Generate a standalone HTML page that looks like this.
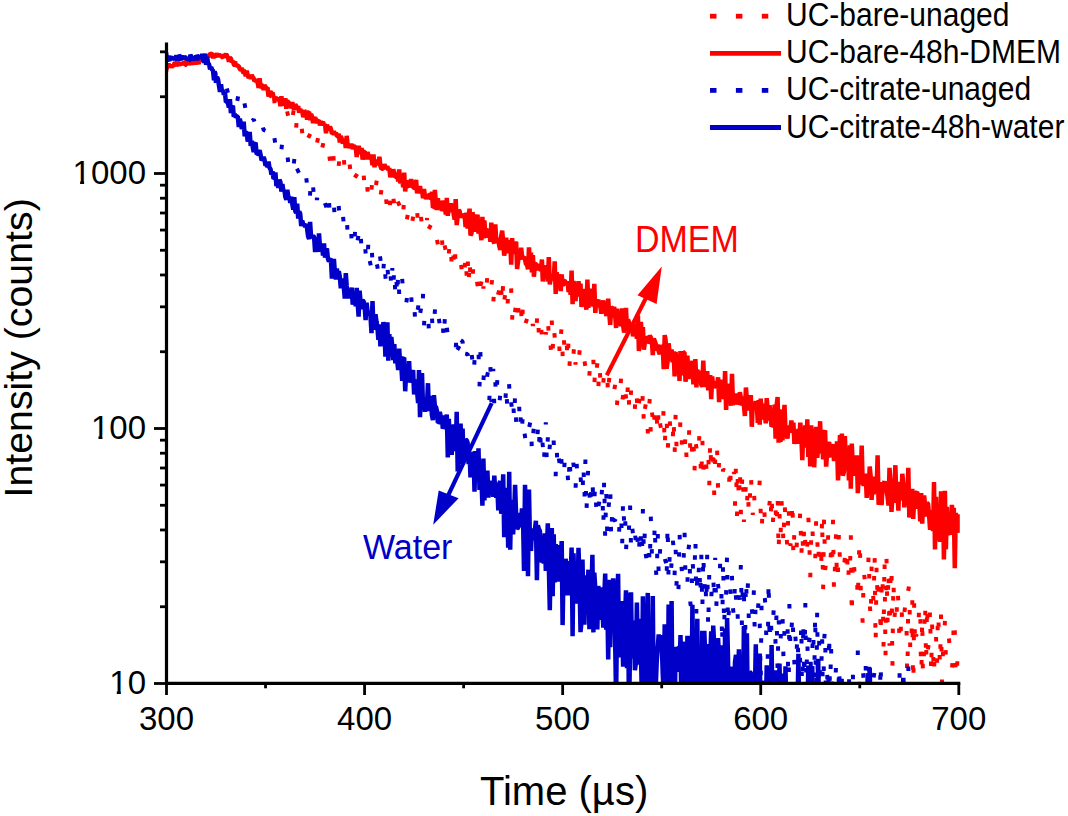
<!DOCTYPE html>
<html><head><meta charset="utf-8"><style>
html,body{margin:0;padding:0;background:#fff;}
svg{display:block;font-family:"Liberation Sans",sans-serif;}
</style></head><body>
<svg width="1068" height="816" viewBox="0 0 1068 816">
<defs><clipPath id="pa"><rect x="166.5" y="40" width="793.3" height="644.5"/></clipPath></defs>
<g clip-path="url(#pa)">
<polyline points="166.5,69.8 167.5,62.3 168.5,69.9 169.5,63.6 170.5,64.5 171.5,67.1 172.4,65.2 173.4,65.9 174.4,63.2 175.4,66.6 176.4,61.6 177.4,66.8 178.4,64.7 179.4,62.9 180.4,66.1 181.4,63.3 182.3,61.7 183.3,62.8 184.3,64.1 185.3,64.2 186.3,60.6 187.3,63.0 188.3,64.4 189.3,61.4 190.3,61.1 191.3,63.7 192.2,61.6 193.2,63.7 194.2,58.8 195.2,59.9 196.2,62.0 197.2,62.2 198.2,59.6 199.2,64.2 200.2,58.8 201.2,57.9 202.2,59.2 203.1,56.3 204.1,59.0 205.1,55.0 206.1,56.9 207.1,56.7 208.1,55.5 209.1,55.9 210.1,55.2 211.1,55.1 212.1,53.8 213.0,57.7 214.0,54.4 215.0,52.5 216.0,58.3 217.0,54.8 218.0,55.2 219.0,55.5 220.0,54.8 221.0,55.2 222.0,57.3 223.0,56.7 223.9,55.6 224.9,54.8 225.9,56.5 226.9,54.9 227.9,59.3 228.9,56.4 229.9,58.8 230.9,55.8 231.9,64.4 232.9,59.9 233.8,61.1 234.8,64.9 235.8,60.9 236.8,65.1 237.8,68.8 238.8,64.5 239.8,62.7 240.8,71.4 241.8,69.7 242.8,68.8 243.7,69.1 244.7,72.9 245.7,71.6 246.7,72.9 247.7,74.2 248.7,74.2 249.7,74.6 250.7,77.5 251.7,75.4 252.7,80.2 253.7,78.5 254.6,80.0 255.6,80.4 256.6,81.4 257.6,84.3 258.6,85.3 259.6,87.2 260.6,85.0 261.6,82.1 262.6,91.5 263.6,86.8 264.5,90.6 265.5,89.5 266.5,91.1 267.5,94.7 268.5,94.5 269.5,95.0 270.5,95.9 271.5,91.8 272.5,102.6 273.5,93.5 274.5,102.6 275.4,98.7 276.4,102.2 277.4,104.3 278.4,102.6 279.4,105.3 280.4,106.5 281.4,108.8 282.4,107.7 283.4,107.5 284.4,109.1 285.3,111.0 286.3,113.2 287.3,112.0 288.3,116.8 289.3,117.6 290.3,110.1 291.3,121.4 292.3,119.0 293.3,112.4 294.3,125.1 295.2,117.0 296.2,126.8 297.2,115.7 298.2,124.3 299.2,123.4 300.2,124.8 301.2,122.5 302.2,132.4 303.2,123.2 304.2,127.6 305.2,131.9 306.1,128.2 307.1,129.0 308.1,131.2 309.1,136.2 310.1,134.2 311.1,136.8 312.1,139.7 313.1,133.2 314.1,135.3 315.1,137.3 316.0,145.5 317.0,143.1 318.0,138.3 319.0,145.5 320.0,146.9 321.0,139.0 322.0,148.8 323.0,144.5 324.0,150.8 325.0,150.3 326.0,150.7 326.9,144.5 327.9,153.2 328.9,152.1 329.9,160.1 330.9,154.0 331.9,158.4 332.9,148.3 333.9,163.5 334.9,152.5 335.9,159.9 336.8,159.4 337.8,158.8 338.8,164.5 339.8,152.9 340.8,160.5 341.8,164.7 342.8,162.3 343.8,158.8 344.8,169.8 345.8,162.9 346.7,167.2 347.7,163.8 348.7,168.4 349.7,165.0 350.7,172.7 351.7,173.5 352.7,170.8 353.7,162.8 354.7,175.2 355.7,176.2 356.7,174.7 357.6,173.4 358.6,177.0 359.6,172.8 360.6,179.9 361.6,178.1 362.6,179.2 363.6,173.2 364.6,189.2 365.6,181.2 366.6,178.8 367.5,189.8 368.5,176.3 369.5,181.7 370.5,190.8 371.5,189.7 372.5,177.6 373.5,186.3 374.5,191.4 375.5,188.3 376.5,182.0 377.4,197.4 378.4,190.9 379.4,193.9 380.4,196.2 381.4,190.5 382.4,198.6 383.4,202.2 384.4,201.4 385.4,192.8 386.4,202.2 387.4,201.0 388.3,196.7 389.3,212.7 390.3,200.3 391.3,212.4 392.3,207.7 393.3,197.9 394.3,204.7 395.3,202.7 396.3,215.2 397.3,207.2 398.2,202.5 399.2,204.7 400.2,216.8 401.2,207.9 402.2,211.9 403.2,212.2 404.2,199.3 405.2,216.5 406.2,214.1 407.2,217.9 408.2,211.8 409.1,214.1 410.1,218.4 411.1,212.3 412.1,222.5 413.1,217.2 414.1,222.5 415.1,222.4 416.1,225.6 417.1,209.9 418.1,226.5 419.0,227.1 420.0,230.7 421.0,216.7 422.0,227.2 423.0,229.1 424.0,231.1 425.0,230.8 426.0,233.7 427.0,218.0 428.0,238.7 428.9,228.7 429.9,226.7 430.9,232.9 431.9,234.3 432.9,241.2 433.9,234.3 434.9,238.3 435.9,237.6 436.9,239.2 437.9,244.6 438.9,236.6 439.8,239.5 440.8,243.3 441.8,235.5 442.8,252.8 443.8,239.1 444.8,246.1 445.8,251.0 446.8,240.8 447.8,255.3 448.8,253.2 449.7,246.1 450.7,239.1 451.7,267.1 452.7,250.0 453.7,258.2 454.7,241.5 455.7,267.3 456.7,261.2 457.7,257.5 458.7,258.6 459.7,258.2 460.6,261.2 461.6,268.7 462.6,258.6 463.6,268.0 464.6,272.1 465.6,253.0 466.6,275.6 467.6,254.5 468.6,285.5 469.6,256.0 470.5,282.5 471.5,275.0 472.5,279.2 473.5,264.2 474.5,269.2 475.5,280.6 476.5,278.1 477.5,285.1 478.5,274.2 479.5,271.0 480.4,285.8 481.4,282.1 482.4,270.0 483.4,288.6 484.4,276.4 485.4,277.1 486.4,288.3 487.4,275.0 488.4,285.4 489.4,291.9 490.4,287.7 491.3,287.0 492.3,277.8 493.3,302.4 494.3,288.3 495.3,290.8 496.3,290.6 497.3,283.6 498.3,293.5 499.3,290.0 500.3,302.1 501.2,288.5 502.2,306.7 503.2,280.3 504.2,301.0 505.2,294.2 506.2,301.6 507.2,312.3 508.2,292.9 509.2,298.5 510.2,302.9 511.2,289.8 512.1,320.2 513.1,299.3 514.1,307.3 515.1,311.8 516.1,302.3 517.1,314.6 518.1,306.3 519.1,316.7 520.1,302.3 521.1,308.4 522.0,329.1 523.0,301.4 524.0,304.5 525.0,321.0 526.0,321.9 527.0,319.0 528.0,314.3 529.0,318.9 530.0,323.9 531.0,317.2 531.9,319.8 532.9,326.0 533.9,320.3 534.9,320.1 535.9,333.1 536.9,320.9 537.9,309.2 538.9,337.0 539.9,321.8 540.9,324.9 541.9,335.6 542.8,326.0 543.8,320.7 544.8,322.3 545.8,334.3 546.8,329.2 547.8,315.1 548.8,337.4 549.8,330.8 550.8,348.9 551.8,320.3 552.7,350.7 553.7,324.5 554.7,337.1 555.7,336.3 556.7,337.9 557.7,336.0 558.7,329.7 559.7,356.4 560.7,337.2 561.7,326.5 562.6,354.1 563.6,332.2 564.6,352.5 565.6,339.2 566.6,340.5 567.6,363.2 568.6,339.0 569.6,364.1 570.6,344.2 571.6,345.9 572.6,350.2 573.5,354.1 574.5,341.7 575.5,364.6 576.5,352.0 577.5,358.0 578.5,361.9 579.5,352.1 580.5,364.4 581.5,359.9 582.5,354.4 583.4,358.8 584.4,360.5 585.4,366.8 586.4,365.8 587.4,359.2 588.4,356.7 589.4,374.3 590.4,361.5 591.4,369.8 592.4,370.6 593.4,360.9 594.3,387.2 595.3,361.5 596.3,370.5 597.3,364.4 598.3,389.8 599.3,363.4 600.3,378.6 601.3,378.5 602.3,368.7 603.3,383.7 604.2,370.2 605.2,376.6 606.2,376.9 607.2,373.7 608.2,398.9 609.2,377.8 610.2,385.2 611.2,384.0 612.2,379.6 613.2,389.8 614.1,391.4 615.1,384.7 616.1,379.4 617.1,403.5 618.1,389.8 619.1,388.5 620.1,393.5 621.1,377.5 622.1,402.0 623.1,395.5 624.1,405.0 625.0,390.2 626.0,397.3 627.0,409.3 628.0,379.8 629.0,402.7 630.0,413.7 631.0,391.7 632.0,403.3 633.0,396.5 634.0,396.5 634.9,407.6 635.9,387.5 636.9,399.4 637.9,417.1 638.9,402.8 639.9,398.5 640.9,411.0 641.9,413.2 642.9,391.1 643.9,427.7 644.9,408.7 645.8,404.2 646.8,402.9 647.8,432.5 648.8,408.1 649.8,399.1 650.8,434.2 651.8,410.6 652.8,419.2 653.8,404.4 654.8,431.1 655.7,418.3 656.7,417.0 657.7,435.7 658.7,405.4 659.7,422.0 660.7,426.7 661.7,426.1 662.7,434.8 663.7,405.5 664.7,450.3 665.6,421.3 666.6,415.7 667.6,451.8 668.6,435.2 669.6,418.2 670.6,433.0 671.6,441.4 672.6,444.9 673.6,415.4 674.6,455.7 675.6,414.3 676.5,447.0 677.5,450.3 678.5,446.8 679.5,444.9 680.5,417.3 681.5,434.8 682.5,457.6 683.5,440.5 684.5,457.4 685.5,432.0 686.4,455.3 687.4,450.5 688.4,455.0 689.4,422.8 690.4,454.5 691.4,463.7 692.4,439.0 693.4,433.0 694.4,474.8 695.4,441.0 696.4,447.5 697.3,458.1 698.3,458.0 699.3,436.1 700.3,456.7 701.3,481.3 702.3,437.2 703.3,471.5 704.3,450.9 705.3,453.8 706.3,467.1 707.2,464.8 708.2,448.7 709.2,488.8 710.2,437.7 711.2,468.3 712.2,474.6 713.2,443.6 714.2,493.5 715.2,459.6 716.2,467.1 717.1,448.6 718.1,491.5 719.1,459.2 720.1,475.0 721.1,474.7 722.1,476.8 723.1,469.3 724.1,470.1 725.1,480.6 726.1,477.9 727.1,478.7 728.0,477.1 729.0,485.5 730.0,462.5 731.0,491.0 732.0,488.2 733.0,480.1 734.0,471.9 735.0,504.0 736.0,461.7 737.0,515.5 737.9,468.4 738.9,504.0 739.9,467.2 740.9,513.0 741.9,484.9 742.9,469.3 743.9,521.9 744.9,499.9 745.9,485.1 746.9,505.7 747.9,485.0 748.8,516.2 749.8,500.8 750.8,472.7 751.8,493.4 752.8,515.0 753.8,490.4 754.8,506.0 755.8,505.2 756.8,499.9 757.8,499.1 758.7,498.2 759.7,480.7 760.7,512.0 761.7,532.3 762.7,504.1 763.7,501.7 764.7,516.8 765.7,504.6 766.7,511.8 767.7,509.3 768.6,510.0 769.6,502.7 770.6,521.9 771.6,491.3 772.6,529.1 773.6,509.4 774.6,518.8 775.6,509.4 776.6,529.6 777.6,492.4 778.6,555.0 779.5,512.8 780.5,539.4 781.5,500.5 782.5,515.3 783.5,546.6 784.5,501.0 785.5,519.6 786.5,535.7 787.5,548.9 788.5,502.1 789.4,530.7 790.4,545.8 791.4,540.5 792.4,498.1 793.4,558.9 794.4,530.2 795.4,532.8 796.4,550.1 797.4,534.0 798.4,534.6 799.3,535.2 800.3,508.3 801.3,558.1 802.3,530.8 803.3,555.0 804.3,521.8 805.3,543.0 806.3,559.4 807.3,544.3 808.3,515.9 809.3,538.9 810.2,580.0 811.2,538.0 812.2,521.9 813.2,548.0 814.2,550.9 815.2,561.0 816.2,517.8 817.2,537.0 818.2,565.5 819.2,538.1 820.1,554.7 821.1,572.9 822.1,514.2 823.1,593.3 824.1,515.4 825.1,570.9 826.1,561.4 827.1,562.2 828.1,536.8 829.1,553.7 830.1,561.8 831.0,552.6 832.0,568.5 833.0,520.8 834.0,593.1 835.0,565.4 836.0,534.6 837.0,583.6 838.0,570.3 839.0,529.6 840.0,563.6 840.9,569.7 841.9,573.2 842.9,571.2 843.9,569.1 844.9,556.6 845.9,573.3 846.9,545.4 847.9,583.6 848.9,567.1 849.9,576.2 850.8,531.6 851.8,619.0 852.8,553.8 853.8,559.5 854.8,579.8 855.8,574.8 856.8,572.8 857.8,602.5 858.8,557.9 859.8,537.8 860.8,591.6 861.7,599.5 862.7,624.1 863.7,569.9 864.7,579.5 865.7,580.4 866.7,578.1 867.7,582.0 868.7,551.8 869.7,600.5 870.7,621.3 871.6,567.3 872.6,582.9 873.6,604.5 874.6,553.1 875.6,646.4 876.6,562.4 877.6,604.6 878.6,584.6 879.6,572.9 880.6,638.3 881.6,590.3 882.5,572.1 883.5,647.8 884.5,556.7 885.5,658.6 886.5,558.3 887.5,623.0 888.5,567.9 889.5,645.7 890.5,581.5 891.5,563.1 892.4,669.5 893.4,577.9 894.4,618.5 895.4,607.2 896.4,620.9 897.4,587.6 898.4,602.5 899.4,639.0 900.4,646.0 901.4,605.6 902.3,623.4 903.3,607.6 904.3,612.6 905.3,605.5 906.3,606.4 907.3,692.2 908.3,590.2 909.3,584.3 910.3,654.0 911.3,644.0 912.3,600.4 913.2,701.5 914.2,602.2 915.2,649.2 916.2,634.3 917.2,640.7 918.2,636.6 919.2,602.3 920.2,602.6 921.2,690.6 922.2,615.5 923.1,692.6 924.1,645.7 925.1,601.0 926.1,665.1 927.1,601.8 928.1,648.0 929.1,643.0 930.1,606.8 931.1,675.6 932.1,624.6 933.1,651.0 934.0,678.0 935.0,635.8 936.0,636.4 937.0,666.1 938.0,610.1 939.0,632.8 940.0,668.1 941.0,615.4 942.0,684.1 943.0,651.1 943.9,651.7 944.9,621.5 945.9,658.9 946.9,659.5 947.9,648.1 948.9,637.8 949.9,649.2 950.9,655.6 951.9,669.2 952.9,656.8 953.8,616.5 954.8,630.5 955.8,680.3 956.8,679.7 957.8,647.7 958.8,632.2" fill="none" stroke="#ff0000" stroke-width="4" stroke-dasharray="0.5 32" stroke-linecap="square" stroke-linejoin="bevel" />
<polyline points="166.5,68.2 167.5,67.1 168.5,63.6 169.5,67.3 170.5,64.8 171.5,67.5 172.4,65.5 173.4,66.2 174.4,64.5 175.4,62.3 176.4,65.9 177.4,64.3 178.4,64.4 179.4,63.7 180.4,64.0 181.4,64.5 182.3,62.8 183.3,63.6 184.3,62.0 185.3,64.7 186.3,64.7 187.3,60.1 188.3,64.8 189.3,62.4 190.3,58.9 191.3,61.8 192.2,64.9 193.2,60.0 194.2,60.4 195.2,64.3 196.2,61.6 197.2,57.0 198.2,62.2 199.2,59.6 200.2,58.7 201.2,60.0 202.2,58.1 203.1,57.8 204.1,57.7 205.1,59.3 206.1,55.4 207.1,57.6 208.1,56.5 209.1,56.5 210.1,53.4 211.1,53.9 212.1,53.9 213.0,55.6 214.0,56.5 215.0,56.5 216.0,55.3 217.0,53.5 218.0,56.8 219.0,54.3 220.0,55.9 221.0,55.0 222.0,56.9 223.0,57.6 223.9,54.7 224.9,55.7 225.9,53.6 226.9,57.0 227.9,56.5 228.9,61.8 229.9,57.6 230.9,58.6 231.9,62.2 232.9,61.0 233.8,64.4 234.8,65.4 235.8,64.4 236.8,65.6 237.8,65.8 238.8,66.4 239.8,68.9 240.8,69.9 241.8,68.2 242.8,71.6 243.7,73.1 244.7,70.8 245.7,76.4 246.7,70.6 247.7,75.3 248.7,78.0 249.7,76.2 250.7,78.6 251.7,74.9 252.7,76.9 253.7,78.4 254.6,81.3 255.6,79.2 256.6,82.3 257.6,81.8 258.6,87.8 259.6,78.2 260.6,87.5 261.6,85.3 262.6,85.0 263.6,90.1 264.5,85.1 265.5,87.0 266.5,88.2 267.5,87.4 268.5,96.6 269.5,92.5 270.5,91.4 271.5,93.8 272.5,92.4 273.5,96.8 274.5,98.0 275.4,99.9 276.4,98.4 277.4,98.2 278.4,101.0 279.4,97.2 280.4,106.2 281.4,96.3 282.4,105.7 283.4,100.2 284.4,101.7 285.3,98.3 286.3,108.7 287.3,100.6 288.3,102.6 289.3,102.9 290.3,105.1 291.3,108.0 292.3,102.1 293.3,107.7 294.3,109.7 295.2,104.5 296.2,106.0 297.2,109.2 298.2,106.2 299.2,112.7 300.2,108.8 301.2,112.3 302.2,110.0 303.2,117.3 304.2,110.5 305.2,112.2 306.1,112.3 307.1,119.7 308.1,112.6 309.1,112.1 310.1,120.1 311.1,113.9 312.1,117.2 313.1,123.0 314.1,118.8 315.1,117.4 316.0,120.3 317.0,122.8 318.0,120.9 319.0,120.4 320.0,125.3 321.0,121.7 322.0,123.1 323.0,121.9 324.0,125.2 325.0,124.1 326.0,133.2 326.9,124.7 327.9,128.0 328.9,129.8 329.9,126.7 330.9,129.0 331.9,133.4 332.9,133.2 333.9,131.2 334.9,134.6 335.9,132.7 336.8,136.0 337.8,136.1 338.8,133.8 339.8,142.4 340.8,136.0 341.8,139.2 342.8,143.6 343.8,140.8 344.8,140.6 345.8,148.0 346.7,135.8 347.7,146.0 348.7,146.7 349.7,146.1 350.7,146.1 351.7,144.0 352.7,149.1 353.7,145.8 354.7,146.7 355.7,146.2 356.7,157.0 357.6,149.2 358.6,146.2 359.6,149.7 360.6,154.1 361.6,148.0 362.6,159.6 363.6,151.8 364.6,152.0 365.6,153.3 366.6,159.4 367.5,152.1 368.5,155.6 369.5,159.2 370.5,154.8 371.5,158.2 372.5,165.1 373.5,154.4 374.5,167.2 375.5,161.0 376.5,161.7 377.4,162.0 378.4,164.9 379.4,156.8 380.4,165.8 381.4,168.8 382.4,168.7 383.4,168.4 384.4,164.4 385.4,167.0 386.4,168.6 387.4,166.1 388.3,170.4 389.3,168.1 390.3,177.3 391.3,171.7 392.3,177.1 393.3,169.2 394.3,173.8 395.3,177.1 396.3,176.9 397.3,172.5 398.2,181.6 399.2,169.5 400.2,183.4 401.2,179.5 402.2,179.3 403.2,187.1 404.2,172.6 405.2,191.5 406.2,180.9 407.2,182.5 408.2,186.0 409.1,186.8 410.1,184.2 411.1,179.1 412.1,185.9 413.1,186.8 414.1,187.8 415.1,188.2 416.1,179.8 417.1,193.4 418.1,188.5 419.0,192.9 420.0,186.1 421.0,193.3 422.0,188.9 423.0,198.3 424.0,189.1 425.0,196.0 426.0,198.7 427.0,196.9 428.0,196.3 428.9,195.3 429.9,194.0 430.9,199.5 431.9,191.9 432.9,207.7 433.9,206.9 434.9,189.9 435.9,203.8 436.9,210.0 437.9,198.1 438.9,209.2 439.8,200.9 440.8,204.7 441.8,210.5 442.8,209.1 443.8,200.4 444.8,205.8 445.8,214.4 446.8,197.9 447.8,215.8 448.8,206.3 449.7,212.1 450.7,203.3 451.7,211.1 452.7,204.0 453.7,214.7 454.7,219.6 455.7,199.2 456.7,225.1 457.7,216.2 458.7,209.9 459.7,211.4 460.6,217.4 461.6,215.7 462.6,216.7 463.6,214.4 464.6,215.4 465.6,227.0 466.6,212.6 467.6,228.5 468.6,215.9 469.6,208.7 470.5,235.4 471.5,233.4 472.5,212.3 473.5,217.0 474.5,225.5 475.5,231.3 476.5,228.1 477.5,214.5 478.5,233.7 479.5,220.6 480.4,230.8 481.4,240.2 482.4,216.8 483.4,238.4 484.4,220.3 485.4,237.8 486.4,229.9 487.4,230.5 488.4,231.8 489.4,232.4 490.4,241.8 491.3,222.7 492.3,232.1 493.3,240.9 494.3,243.4 495.3,224.4 496.3,242.0 497.3,239.3 498.3,239.6 499.3,246.2 500.3,249.9 501.2,235.9 502.2,230.7 503.2,241.9 504.2,255.7 505.2,246.2 506.2,237.7 507.2,253.1 508.2,246.9 509.2,242.4 510.2,241.7 511.2,264.7 512.1,238.1 513.1,252.3 514.1,251.8 515.1,245.9 516.1,241.6 517.1,269.0 518.1,261.2 519.1,249.5 520.1,259.9 521.1,247.7 522.0,255.4 523.0,257.9 524.0,257.3 525.0,259.5 526.0,264.3 527.0,264.8 528.0,269.2 529.0,247.3 530.0,266.1 531.0,252.7 531.9,272.5 532.9,255.2 533.9,276.7 534.9,263.9 535.9,264.2 536.9,265.3 537.9,270.2 538.9,266.1 539.9,265.6 540.9,271.1 541.9,259.5 542.8,281.5 543.8,269.3 544.8,265.3 545.8,278.9 546.8,266.2 547.8,281.5 548.8,257.0 549.8,284.4 550.8,278.1 551.8,279.1 552.7,274.2 553.7,280.4 554.7,261.4 555.7,294.0 556.7,272.3 557.7,279.7 558.7,277.0 559.7,274.3 560.7,291.1 561.7,274.3 562.6,286.1 563.6,281.0 564.6,280.7 565.6,282.5 566.6,285.0 567.6,281.3 568.6,292.0 569.6,286.4 570.6,294.8 571.6,270.5 572.6,304.1 573.5,281.2 574.5,287.4 575.5,301.0 576.5,284.8 577.5,296.5 578.5,281.1 579.5,291.9 580.5,283.5 581.5,307.0 582.5,297.9 583.4,289.1 584.4,293.5 585.4,295.1 586.4,309.8 587.4,279.5 588.4,307.8 589.4,299.1 590.4,288.7 591.4,304.3 592.4,301.6 593.4,306.4 594.3,283.9 595.3,312.9 596.3,299.3 597.3,307.1 598.3,299.9 599.3,303.7 600.3,305.7 601.3,313.7 602.3,305.7 603.3,300.4 604.2,312.0 605.2,301.7 606.2,316.2 607.2,310.2 608.2,298.7 609.2,312.6 610.2,324.8 611.2,307.1 612.2,308.1 613.2,317.6 614.1,306.9 615.1,313.5 616.1,328.0 617.1,308.7 618.1,317.6 619.1,324.7 620.1,324.4 621.1,320.6 622.1,308.5 623.1,325.5 624.1,332.5 625.0,328.7 626.0,307.8 627.0,331.3 628.0,319.6 629.0,322.3 630.0,329.7 631.0,325.7 632.0,325.3 633.0,336.4 634.0,330.8 634.9,323.9 635.9,327.0 636.9,338.7 637.9,315.4 638.9,351.0 639.9,337.3 640.9,321.9 641.9,336.3 642.9,327.0 643.9,349.6 644.9,341.5 645.8,336.8 646.8,338.4 647.8,343.0 648.8,341.6 649.8,335.4 650.8,337.4 651.8,339.9 652.8,355.1 653.8,338.7 654.8,341.2 655.7,343.7 656.7,350.6 657.7,344.6 658.7,351.2 659.7,354.2 660.7,344.9 661.7,350.6 662.7,344.9 663.7,369.2 664.7,335.1 665.6,339.9 666.6,368.7 667.6,361.5 668.6,343.3 669.6,353.0 670.6,360.8 671.6,349.5 672.6,362.3 673.6,351.4 674.6,376.5 675.6,351.8 676.5,363.8 677.5,358.6 678.5,354.3 679.5,381.0 680.5,351.1 681.5,366.9 682.5,375.3 683.5,352.5 684.5,352.6 685.5,381.7 686.4,373.7 687.4,355.6 688.4,378.8 689.4,372.2 690.4,367.1 691.4,366.1 692.4,360.8 693.4,384.4 694.4,371.6 695.4,359.1 696.4,387.5 697.3,369.5 698.3,378.4 699.3,375.1 700.3,370.7 701.3,385.2 702.3,385.9 703.3,360.6 704.3,387.1 705.3,375.8 706.3,383.8 707.2,371.2 708.2,390.3 709.2,379.9 710.2,375.2 711.2,399.2 712.2,376.4 713.2,387.6 714.2,384.0 715.2,381.7 716.2,388.2 717.1,385.8 718.1,377.3 719.1,402.2 720.1,382.7 721.1,380.2 722.1,384.4 723.1,396.8 724.1,398.1 725.1,371.1 726.1,410.0 727.1,383.5 728.0,400.0 729.0,401.3 730.0,387.8 731.0,405.8 732.0,373.9 733.0,404.5 734.0,402.5 735.0,397.9 736.0,393.9 737.0,396.4 737.9,404.4 738.9,402.3 739.9,392.2 740.9,398.1 741.9,405.5 742.9,396.5 743.9,405.9 744.9,416.0 745.9,387.5 746.9,399.7 747.9,410.6 748.8,399.2 749.8,406.7 750.8,395.1 751.8,426.8 752.8,403.1 753.8,409.3 754.8,404.0 755.8,401.6 756.8,404.9 757.8,422.8 758.7,400.0 759.7,424.6 760.7,398.7 761.7,411.6 762.7,419.5 763.7,403.7 764.7,410.1 765.7,423.3 766.7,398.2 767.7,409.2 768.6,420.5 769.6,405.1 770.6,418.1 771.6,426.7 772.6,414.2 773.6,427.5 774.6,404.5 775.6,438.6 776.6,405.8 777.6,397.0 778.6,442.7 779.5,409.3 780.5,442.0 781.5,422.2 782.5,440.4 783.5,419.5 784.5,404.9 785.5,430.9 786.5,433.4 787.5,438.5 788.5,425.5 789.4,428.8 790.4,429.5 791.4,420.5 792.4,432.7 793.4,422.7 794.4,444.0 795.4,436.7 796.4,434.7 797.4,443.7 798.4,428.8 799.3,438.8 800.3,422.7 801.3,436.3 802.3,460.1 803.3,427.6 804.3,443.0 805.3,425.4 806.3,447.6 807.3,419.3 808.3,456.9 809.3,427.6 810.2,466.5 811.2,425.3 812.2,444.1 813.2,435.7 814.2,467.3 815.2,437.4 816.2,426.9 817.2,457.8 818.2,448.3 819.2,446.7 820.1,421.2 821.1,453.4 822.1,441.8 823.1,459.4 824.1,432.8 825.1,430.2 826.1,466.7 827.1,453.0 828.1,445.4 829.1,441.9 830.1,455.1 831.0,456.9 832.0,446.9 833.0,444.4 834.0,461.1 835.0,445.6 836.0,457.1 837.0,441.3 838.0,480.4 839.0,461.2 840.0,435.1 840.9,470.0 841.9,433.6 842.9,475.6 843.9,471.8 844.9,436.0 845.9,464.9 846.9,470.0 847.9,451.0 848.9,480.5 849.9,445.2 850.8,488.6 851.8,443.6 852.8,467.3 853.8,475.7 854.8,458.5 855.8,466.9 856.8,455.4 857.8,493.1 858.8,476.6 859.8,484.2 860.8,472.5 861.7,445.5 862.7,483.7 863.7,484.9 864.7,483.4 865.7,473.6 866.7,498.0 867.7,473.8 868.7,491.0 869.7,466.5 870.7,476.8 871.6,500.0 872.6,476.5 873.6,494.2 874.6,489.0 875.6,478.1 876.6,490.2 877.6,455.4 878.6,504.6 879.6,500.9 880.6,482.2 881.6,505.2 882.5,487.8 883.5,485.3 884.5,481.1 885.5,491.6 886.5,490.2 887.5,496.3 888.5,505.4 889.5,467.9 890.5,482.9 891.5,511.8 892.4,495.0 893.4,483.0 894.4,489.1 895.4,465.2 896.4,502.9 897.4,490.8 898.4,510.7 899.4,481.9 900.4,498.6 901.4,499.1 902.3,473.8 903.3,483.4 904.3,507.4 905.3,495.5 906.3,488.3 907.3,501.6 908.3,467.7 909.3,517.5 910.3,500.3 911.3,499.4 912.3,488.7 913.2,519.0 914.2,499.7 915.2,508.7 916.2,492.8 917.2,491.7 918.2,507.4 919.2,499.8 920.2,521.5 921.2,493.1 922.2,523.6 923.1,503.3 924.1,495.4 925.1,504.9 926.1,516.6 927.1,503.0 928.1,503.8 929.1,515.6 930.1,529.9 931.1,510.0 932.1,516.5 933.1,531.0 934.0,482.1 935.0,549.4 936.0,496.9 937.0,527.8 938.0,518.5 939.0,534.9 940.0,541.7 941.0,491.4 942.0,540.7 943.0,493.9 943.9,559.5 944.9,490.9 945.9,549.4 946.9,506.8 947.9,535.4 948.9,521.4 949.9,521.9 950.9,534.8 951.9,504.9 952.9,525.3 953.8,507.7 954.8,568.1 955.8,512.8 956.8,529.8 957.8,532.6 958.8,514.3" fill="none" stroke="#ff0000" stroke-width="4.5" stroke-linejoin="bevel" />
<polyline points="166.5,54.3 167.5,61.1 168.5,57.5 169.5,57.9 170.5,58.0 171.5,60.9 172.4,59.6 173.4,55.9 174.4,58.5 175.4,59.0 176.4,58.2 177.4,58.9 178.4,57.5 179.4,55.3 180.4,62.1 181.4,57.1 182.3,58.2 183.3,57.1 184.3,60.3 185.3,57.1 186.3,55.3 187.3,58.9 188.3,56.5 189.3,58.8 190.3,59.9 191.3,57.3 192.2,55.6 193.2,60.9 194.2,59.1 195.2,53.7 196.2,60.9 197.2,55.2 198.2,60.2 199.2,59.2 200.2,54.8 201.2,60.1 202.2,55.7 203.1,57.7 204.1,56.5 205.1,60.8 206.1,58.9 207.1,57.9 208.1,61.2 209.1,64.2 210.1,61.9 211.1,70.7 212.1,64.5 213.0,68.9 214.0,72.5 215.0,73.2 216.0,73.0 217.0,71.5 218.0,77.4 219.0,79.4 220.0,79.6 221.0,77.5 222.0,82.1 223.0,83.7 223.9,84.0 224.9,82.4 225.9,86.9 226.9,88.6 227.9,92.7 228.9,89.2 229.9,89.5 230.9,89.6 231.9,95.1 232.9,94.6 233.8,93.7 234.8,96.9 235.8,96.5 236.8,103.6 237.8,98.0 238.8,100.8 239.8,106.6 240.8,104.6 241.8,103.1 242.8,108.0 243.7,112.7 244.7,104.6 245.7,109.8 246.7,116.6 247.7,117.5 248.7,113.6 249.7,117.7 250.7,115.6 251.7,121.7 252.7,120.5 253.7,119.3 254.6,122.2 255.6,122.3 256.6,124.4 257.6,131.8 258.6,124.6 259.6,127.9 260.6,129.1 261.6,127.7 262.6,126.5 263.6,129.8 264.5,130.2 265.5,139.0 266.5,134.6 267.5,135.2 268.5,137.0 269.5,136.5 270.5,139.3 271.5,139.3 272.5,142.6 273.5,141.6 274.5,138.7 275.4,144.3 276.4,143.9 277.4,142.3 278.4,150.7 279.4,143.1 280.4,145.9 281.4,149.6 282.4,140.8 283.4,150.5 284.4,150.5 285.3,152.3 286.3,149.4 287.3,154.4 288.3,163.1 289.3,159.5 290.3,156.4 291.3,165.8 292.3,163.7 293.3,167.6 294.3,159.7 295.2,176.0 296.2,166.3 297.2,169.2 298.2,171.3 299.2,171.8 300.2,173.0 301.2,167.8 302.2,179.4 303.2,178.4 304.2,179.2 305.2,179.7 306.1,175.9 307.1,185.5 308.1,185.2 309.1,176.6 310.1,193.8 311.1,176.6 312.1,187.6 313.1,186.5 314.1,200.4 315.1,189.4 316.0,192.0 317.0,199.9 318.0,193.4 319.0,196.1 320.0,199.0 321.0,192.9 322.0,196.1 323.0,201.4 324.0,201.5 325.0,203.4 326.0,206.2 326.9,212.3 327.9,196.3 328.9,198.7 329.9,218.3 330.9,209.0 331.9,207.8 332.9,204.9 333.9,205.5 334.9,218.8 335.9,212.8 336.8,213.6 337.8,218.2 338.8,207.5 339.8,218.1 340.8,221.1 341.8,223.9 342.8,213.3 343.8,224.7 344.8,227.0 345.8,225.4 346.7,215.2 347.7,236.1 348.7,235.8 349.7,227.1 350.7,224.7 351.7,241.0 352.7,226.6 353.7,236.6 354.7,236.0 355.7,223.1 356.7,241.2 357.6,240.1 358.6,235.1 359.6,241.9 360.6,230.3 361.6,251.8 362.6,242.5 363.6,241.1 364.6,241.8 365.6,252.5 366.6,249.5 367.5,262.3 368.5,238.9 369.5,260.0 370.5,264.3 371.5,244.1 372.5,262.9 373.5,259.6 374.5,262.8 375.5,255.8 376.5,263.6 377.4,266.4 378.4,274.2 379.4,254.1 380.4,258.8 381.4,278.4 382.4,270.8 383.4,269.8 384.4,255.1 385.4,276.4 386.4,285.4 387.4,267.0 388.3,277.8 389.3,281.7 390.3,268.7 391.3,289.6 392.3,268.2 393.3,289.0 394.3,266.1 395.3,294.8 396.3,277.1 397.3,299.4 398.2,270.7 399.2,294.1 400.2,300.6 401.2,290.1 402.2,279.1 403.2,292.9 404.2,289.5 405.2,296.0 406.2,303.3 407.2,296.5 408.2,297.3 409.1,306.9 410.1,305.2 411.1,294.5 412.1,309.7 413.1,304.5 414.1,300.9 415.1,320.0 416.1,304.4 417.1,311.5 418.1,307.9 419.0,297.0 420.0,314.7 421.0,308.4 422.0,317.3 423.0,295.8 424.0,325.6 425.0,310.8 426.0,313.1 427.0,317.2 428.0,315.1 428.9,330.2 429.9,313.3 430.9,311.5 431.9,316.6 432.9,332.4 433.9,324.6 434.9,310.7 435.9,323.4 436.9,326.9 437.9,329.5 438.9,319.1 439.8,324.6 440.8,334.1 441.8,332.8 442.8,322.9 443.8,342.2 444.8,318.1 445.8,335.7 446.8,327.1 447.8,335.7 448.8,336.0 449.7,337.1 450.7,335.9 451.7,339.7 452.7,338.4 453.7,340.3 454.7,344.9 455.7,350.1 456.7,331.5 457.7,349.1 458.7,347.4 459.7,346.5 460.6,358.2 461.6,340.7 462.6,341.4 463.6,360.8 464.6,357.0 465.6,351.4 466.6,353.9 467.6,354.1 468.6,358.1 469.6,366.7 470.5,353.0 471.5,352.6 472.5,361.7 473.5,376.0 474.5,360.9 475.5,362.8 476.5,363.3 477.5,367.6 478.5,350.6 479.5,386.8 480.4,353.0 481.4,373.2 482.4,371.7 483.4,380.6 484.4,367.9 485.4,374.8 486.4,382.4 487.4,374.4 488.4,370.9 489.4,398.8 490.4,367.4 491.3,401.6 492.3,398.2 493.3,368.8 494.3,406.5 495.3,381.9 496.3,399.6 497.3,380.2 498.3,391.8 499.3,404.2 500.3,394.2 501.2,395.1 502.2,394.4 503.2,394.2 504.2,403.8 505.2,407.4 506.2,382.3 507.2,408.4 508.2,409.6 509.2,386.0 510.2,410.1 511.2,403.0 512.1,409.2 513.1,396.1 514.1,421.9 515.1,393.9 516.1,420.3 517.1,410.5 518.1,415.6 519.1,403.9 520.1,430.5 521.1,410.4 522.0,427.5 523.0,412.4 524.0,429.8 525.0,436.3 526.0,418.6 527.0,420.3 528.0,428.3 529.0,427.9 530.0,423.5 531.0,418.1 531.9,453.6 532.9,436.4 533.9,426.9 534.9,428.7 535.9,433.1 536.9,443.4 537.9,429.3 538.9,449.2 539.9,423.5 540.9,450.7 541.9,436.8 542.8,445.9 543.8,466.0 544.8,441.9 545.8,422.3 546.8,463.4 547.8,438.4 548.8,458.3 549.8,446.1 550.8,459.7 551.8,450.1 552.7,447.2 553.7,442.3 554.7,463.3 555.7,474.6 556.7,448.3 557.7,471.0 558.7,457.6 559.7,463.9 560.7,448.0 561.7,465.0 562.6,466.1 563.6,479.1 564.6,462.5 565.6,458.9 566.6,455.2 567.6,472.9 568.6,489.9 569.6,453.1 570.6,481.6 571.6,480.3 572.6,463.6 573.5,464.4 574.5,473.6 575.5,491.4 576.5,459.6 577.5,481.1 578.5,482.1 579.5,484.3 580.5,475.2 581.5,491.2 582.5,497.4 583.4,462.5 584.4,500.8 585.4,461.3 586.4,515.7 587.4,480.3 588.4,468.0 589.4,491.9 590.4,511.1 591.4,484.6 592.4,475.8 593.4,507.9 594.3,500.6 595.3,483.0 596.3,510.3 597.3,496.7 598.3,506.8 599.3,502.0 600.3,512.4 601.3,501.2 602.3,484.0 603.3,529.1 604.2,476.7 605.2,540.4 606.2,489.3 607.2,532.9 608.2,510.5 609.2,501.4 610.2,484.4 611.2,540.5 612.2,511.8 613.2,504.1 614.1,520.1 615.1,521.0 616.1,511.3 617.1,513.8 618.1,519.8 619.1,531.4 620.1,514.3 621.1,511.4 622.1,549.6 623.1,497.2 624.1,522.6 625.0,508.9 626.0,551.4 627.0,528.7 628.0,535.3 629.0,528.4 630.0,501.5 631.0,546.3 632.0,525.4 633.0,534.3 634.0,521.6 634.9,532.3 635.9,543.7 636.9,528.3 637.9,545.9 638.9,558.2 639.9,525.2 640.9,538.5 641.9,557.3 642.9,510.1 643.9,554.9 644.9,529.7 645.8,554.8 646.8,560.8 647.8,545.6 648.8,544.3 649.8,566.9 650.8,516.3 651.8,551.9 652.8,557.5 653.8,558.0 654.8,520.3 655.7,566.5 656.7,580.6 657.7,529.9 658.7,576.3 659.7,556.0 660.7,542.3 661.7,549.7 662.7,555.0 663.7,553.0 664.7,558.4 665.6,561.5 666.6,581.0 667.6,521.6 668.6,582.1 669.6,558.3 670.6,577.6 671.6,561.9 672.6,538.0 673.6,547.8 674.6,574.1 675.6,546.2 676.5,583.9 677.5,570.2 678.5,588.2 679.5,529.5 680.5,566.2 681.5,566.7 682.5,578.4 683.5,565.0 684.5,529.0 685.5,577.1 686.4,572.0 687.4,584.6 688.4,549.7 689.4,542.9 690.4,603.7 691.4,608.4 692.4,557.3 693.4,574.4 694.4,578.1 695.4,535.6 696.4,613.5 697.3,571.4 698.3,581.0 699.3,558.9 700.3,599.0 701.3,554.9 702.3,611.9 703.3,551.0 704.3,592.0 705.3,573.9 706.3,608.0 707.2,555.8 708.2,630.9 709.2,576.7 710.2,586.8 711.2,601.3 712.2,575.7 713.2,573.3 714.2,603.8 715.2,557.8 716.2,613.2 717.1,578.7 718.1,585.3 719.1,592.3 720.1,564.9 721.1,568.0 722.1,647.8 723.1,557.6 724.1,630.2 725.1,591.0 726.1,594.8 727.1,552.3 728.0,627.5 729.0,606.9 730.0,586.0 731.0,600.2 732.0,577.2 733.0,608.5 734.0,617.1 735.0,578.1 736.0,598.4 737.0,591.7 737.9,623.2 738.9,582.4 739.9,599.8 740.9,562.5 741.9,625.0 742.9,580.7 743.9,587.9 744.9,661.9 745.9,576.8 746.9,604.7 747.9,584.4 748.8,618.7 749.8,603.5 750.8,600.5 751.8,609.1 752.8,618.3 753.8,592.2 754.8,634.3 755.8,597.3 756.8,605.5 757.8,610.3 758.7,599.5 759.7,620.4 760.7,681.9 761.7,594.7 762.7,599.0 763.7,603.4 764.7,596.7 765.7,608.7 766.7,659.3 767.7,660.7 768.6,577.2 769.6,645.1 770.6,612.7 771.6,636.5 772.6,632.5 773.6,611.0 774.6,611.7 775.6,645.8 776.6,609.2 777.6,673.3 778.6,619.1 779.5,633.9 780.5,645.4 781.5,612.8 782.5,613.4 783.5,659.9 784.5,628.0 785.5,624.0 786.5,620.2 787.5,616.4 788.5,715.6 789.4,605.5 790.4,648.1 791.4,632.9 792.4,611.1 793.4,639.4 794.4,663.6 795.4,635.7 796.4,659.0 797.4,632.1 798.4,660.8 799.3,649.6 800.3,662.6 801.3,620.7 802.3,720.0 803.3,617.6 804.3,696.8 805.3,602.5 806.3,682.3 807.3,639.0 808.3,676.8 809.3,640.3 810.2,635.8 811.2,687.4 812.2,653.7 813.2,627.8 814.2,682.4 815.2,611.3 816.2,720.0 817.2,608.4 818.2,720.0 819.2,641.5 820.1,680.3 821.1,681.5 822.1,633.7 823.1,720.0 824.1,641.0 825.1,626.9 826.1,720.0 827.1,668.5 828.1,711.3 829.1,630.7 830.1,705.1 831.0,642.8 832.0,690.5 833.0,676.4 834.0,677.7 835.0,695.2 836.0,666.1 837.0,667.2 838.0,719.4 839.0,662.9 840.0,693.8 840.9,695.3 841.9,680.4 842.9,717.6 843.9,691.0 844.9,684.1 845.9,702.5 846.9,720.0 847.9,672.8 848.9,673.7 849.9,708.1 850.8,719.8 851.8,720.0 852.8,669.5 853.8,720.0 854.8,712.0 855.8,693.9 856.8,720.0 857.8,652.2 858.8,714.2 859.8,720.0 860.8,687.9 861.7,720.0 862.7,666.6 863.7,681.3 864.7,720.0 865.7,667.6 866.7,720.0 867.7,720.0 868.7,655.9 869.7,710.3 870.7,710.8 871.6,720.0 872.6,720.0 873.6,677.9 874.6,671.0 875.6,720.0 876.6,720.0 877.6,720.0 878.6,687.7 879.6,720.0 880.6,659.8 881.6,720.0 882.5,720.0 883.5,720.0 884.5,698.9 885.5,699.3 886.5,709.2 887.5,720.0 888.5,720.0 889.5,720.0 890.5,711.2 891.5,684.9 892.4,720.0 893.4,670.7 894.4,720.0 895.4,686.5 896.4,720.0 897.4,704.7 898.4,720.0 899.4,665.9 900.4,720.0 901.4,706.5 902.3,706.9 903.3,720.0 904.3,720.0 905.3,720.0 906.3,720.0 907.3,720.0 908.3,667.5 909.3,720.0 910.3,720.0 911.3,692.5 912.3,720.0 913.2,720.0 914.2,720.0 915.2,712.7 916.2,720.0 917.2,686.4 918.2,720.0 919.2,720.0 920.2,714.9 921.2,687.7 922.2,720.0 923.1,720.0 924.1,720.0 925.1,697.7 926.1,720.0 927.1,720.0 928.1,708.2 929.1,720.0 930.1,690.9 931.1,699.8 932.1,720.0 933.1,720.0 934.0,678.4 935.0,720.0 936.0,720.0 937.0,693.2 938.0,720.0 939.0,720.0 940.0,720.0 941.0,681.3 942.0,713.5 943.0,720.0 943.9,720.0 944.9,720.0 945.9,720.0 946.9,720.0 947.9,684.3 948.9,720.0 949.9,720.0 950.9,720.0 951.9,707.4 952.9,720.0 953.8,720.0 954.8,720.0 955.8,720.0 956.8,720.0 957.8,720.0 958.8,720.0" fill="none" stroke="#0000c8" stroke-width="4" stroke-dasharray="0.5 32" stroke-linecap="square" stroke-linejoin="bevel" />
<polyline points="166.5,59.8 167.5,55.9 168.5,59.5 169.5,60.3 170.5,57.9 171.5,57.1 172.4,58.9 173.4,58.4 174.4,58.4 175.4,58.5 176.4,55.5 177.4,61.1 178.4,57.5 179.4,60.2 180.4,57.4 181.4,55.9 182.3,58.2 183.3,58.6 184.3,56.3 185.3,57.7 186.3,58.5 187.3,58.7 188.3,58.7 189.3,60.2 190.3,54.8 191.3,56.5 192.2,60.5 193.2,56.9 194.2,58.6 195.2,58.9 196.2,55.7 197.2,60.4 198.2,55.5 199.2,57.6 200.2,56.5 201.2,58.2 202.2,53.9 203.1,60.9 204.1,61.7 205.1,53.6 206.1,64.8 207.1,59.7 208.1,62.9 209.1,64.4 210.1,69.4 211.1,66.9 212.1,69.8 213.0,70.2 214.0,80.2 215.0,72.2 216.0,82.9 217.0,76.8 218.0,79.1 219.0,85.8 220.0,91.9 221.0,84.3 222.0,91.5 223.0,89.8 223.9,94.8 224.9,91.9 225.9,102.0 226.9,101.8 227.9,103.1 228.9,107.4 229.9,99.1 230.9,113.1 231.9,107.2 232.9,105.7 233.8,116.7 234.8,113.9 235.8,117.5 236.8,116.4 237.8,116.5 238.8,127.0 239.8,118.9 240.8,122.7 241.8,128.8 242.8,126.7 243.7,121.6 244.7,136.3 245.7,132.4 246.7,132.1 247.7,141.4 248.7,138.9 249.7,131.9 250.7,145.9 251.7,141.0 252.7,146.9 253.7,152.2 254.6,143.9 255.6,142.7 256.6,154.1 257.6,153.8 258.6,152.8 259.6,150.1 260.6,154.9 261.6,160.4 262.6,159.2 263.6,157.0 264.5,159.6 265.5,165.6 266.5,164.5 267.5,166.7 268.5,161.6 269.5,168.0 270.5,168.8 271.5,174.5 272.5,171.2 273.5,178.6 274.5,178.0 275.4,172.3 276.4,186.1 277.4,182.4 278.4,187.9 279.4,179.8 280.4,182.0 281.4,191.6 282.4,184.0 283.4,191.0 284.4,189.8 285.3,196.8 286.3,199.7 287.3,189.8 288.3,196.9 289.3,197.2 290.3,202.8 291.3,196.8 292.3,204.0 293.3,209.7 294.3,197.1 295.2,210.8 296.2,213.0 297.2,203.7 298.2,218.5 299.2,211.5 300.2,213.7 301.2,226.0 302.2,220.7 303.2,224.3 304.2,223.8 305.2,227.2 306.1,224.1 307.1,228.6 308.1,236.4 309.1,239.0 310.1,222.0 311.1,237.7 312.1,236.4 313.1,235.6 314.1,237.2 315.1,252.1 316.0,240.8 317.0,237.6 318.0,252.0 319.0,233.3 320.0,247.1 321.0,251.2 322.0,244.3 323.0,255.6 324.0,243.5 325.0,257.6 326.0,250.7 326.9,248.4 327.9,258.6 328.9,261.6 329.9,259.7 330.9,258.7 331.9,278.6 332.9,266.3 333.9,258.8 334.9,272.7 335.9,279.4 336.8,268.6 337.8,275.8 338.8,271.2 339.8,276.6 340.8,288.2 341.8,278.6 342.8,284.4 343.8,286.8 344.8,298.6 345.8,273.1 346.7,286.0 347.7,295.9 348.7,297.7 349.7,294.7 350.7,296.8 351.7,287.6 352.7,304.7 353.7,294.4 354.7,295.0 355.7,306.3 356.7,287.8 357.6,302.2 358.6,316.6 359.6,290.6 360.6,301.9 361.6,309.3 362.6,300.6 363.6,301.2 364.6,305.9 365.6,320.1 366.6,302.7 367.5,310.7 368.5,314.3 369.5,311.4 370.5,316.1 371.5,333.1 372.5,301.1 373.5,329.7 374.5,320.2 375.5,314.4 376.5,321.7 377.4,327.2 378.4,339.7 379.4,324.4 380.4,346.5 381.4,326.4 382.4,341.0 383.4,322.1 384.4,328.4 385.4,356.6 386.4,335.8 387.4,322.2 388.3,360.6 389.3,334.1 390.3,348.2 391.3,337.0 392.3,346.2 393.3,360.0 394.3,344.2 395.3,363.3 396.3,354.8 397.3,362.0 398.2,370.1 399.2,348.7 400.2,365.0 401.2,363.0 402.2,380.9 403.2,358.7 404.2,357.5 405.2,391.3 406.2,370.3 407.2,364.4 408.2,381.0 409.1,361.2 410.1,382.4 411.1,379.5 412.1,373.8 413.1,370.2 414.1,394.5 415.1,379.4 416.1,389.0 417.1,391.5 418.1,403.0 419.0,370.0 420.0,417.2 421.0,391.7 422.0,373.0 423.0,406.7 424.0,398.0 425.0,411.8 426.0,403.0 427.0,403.9 428.0,383.2 428.9,411.2 429.9,398.1 430.9,398.1 431.9,415.0 432.9,420.1 433.9,395.1 434.9,406.5 435.9,406.6 436.9,410.8 437.9,422.8 438.9,422.1 439.8,411.8 440.8,417.0 441.8,416.9 442.8,428.6 443.8,425.9 444.8,415.4 445.8,422.7 446.8,414.6 447.8,457.4 448.8,418.8 449.7,437.6 450.7,427.0 451.7,454.8 452.7,434.3 453.7,424.5 454.7,439.3 455.7,451.1 456.7,411.7 457.7,471.4 458.7,437.6 459.7,458.8 460.6,423.6 461.6,464.4 462.6,428.6 463.6,458.5 464.6,457.2 465.6,439.4 466.6,440.2 467.6,442.7 468.6,464.2 469.6,452.4 470.5,477.3 471.5,460.1 472.5,462.0 473.5,451.7 474.5,491.7 475.5,451.0 476.5,470.9 477.5,472.8 478.5,448.3 479.5,489.9 480.4,472.4 481.4,477.2 482.4,505.6 483.4,458.5 484.4,500.3 485.4,474.1 486.4,489.3 487.4,470.7 488.4,497.5 489.4,485.2 490.4,489.3 491.3,488.5 492.3,480.9 493.3,496.8 494.3,475.6 495.3,491.6 496.3,497.7 497.3,486.4 498.3,510.4 499.3,483.5 500.3,481.2 501.2,513.8 502.2,508.0 503.2,474.2 504.2,537.1 505.2,487.9 506.2,496.8 507.2,504.1 508.2,547.8 509.2,471.8 510.2,549.8 511.2,499.7 512.1,524.3 513.1,534.4 514.1,515.5 515.1,484.9 516.1,514.9 517.1,529.0 518.1,527.7 519.1,512.9 520.1,527.2 521.1,521.2 522.0,508.5 523.0,515.9 524.0,571.0 525.0,484.8 526.0,520.7 527.0,490.1 528.0,576.1 529.0,489.6 530.0,544.3 531.0,551.0 531.9,529.1 532.9,540.3 533.9,528.7 534.9,529.7 535.9,520.7 536.9,580.3 537.9,525.3 538.9,529.3 539.9,530.8 540.9,548.8 541.9,562.6 542.8,541.2 543.8,563.6 544.8,533.3 545.8,571.0 546.8,550.7 547.8,523.4 548.8,564.5 549.8,610.3 550.8,553.3 551.8,528.0 552.7,596.3 553.7,534.4 554.7,582.5 555.7,544.0 556.7,563.1 557.7,545.0 558.7,581.8 559.7,546.1 560.7,559.0 561.7,541.1 562.6,625.1 563.6,565.8 564.6,585.6 565.6,558.9 566.6,567.0 567.6,595.3 568.6,573.7 569.6,561.2 570.6,576.7 571.6,547.5 572.6,636.3 573.5,553.2 574.5,590.9 575.5,596.9 576.5,589.5 577.5,603.5 578.5,547.9 579.5,579.3 580.5,632.1 581.5,621.9 582.5,559.6 583.4,608.1 584.4,624.7 585.4,575.5 586.4,579.8 587.4,597.1 588.4,569.7 589.4,629.2 590.4,608.7 591.4,595.3 592.4,554.7 593.4,632.4 594.3,572.6 595.3,588.7 596.3,597.8 597.3,629.4 598.3,586.0 599.3,595.0 600.3,620.0 601.3,587.4 602.3,605.8 603.3,627.7 604.2,597.5 605.2,573.6 606.2,629.8 607.2,594.9 608.2,659.5 609.2,579.8 610.2,647.2 611.2,589.2 612.2,613.0 613.2,578.4 614.1,591.0 615.1,638.8 616.1,699.7 617.1,612.0 618.1,573.9 619.1,657.5 620.1,604.6 621.1,601.3 622.1,617.8 623.1,666.7 624.1,601.1 625.0,617.5 626.0,590.4 627.0,668.1 628.0,592.8 629.0,716.1 630.0,651.7 631.0,592.3 632.0,655.5 633.0,657.8 634.0,620.5 634.9,670.2 635.9,662.9 636.9,602.5 637.9,664.6 638.9,618.8 639.9,637.1 640.9,651.5 641.9,697.3 642.9,596.3 643.9,720.0 644.9,647.5 645.8,655.7 646.8,623.5 647.8,592.9 648.8,720.0 649.8,666.9 650.8,620.2 651.8,677.1 652.8,596.0 653.8,720.0 654.8,661.3 655.7,688.9 656.7,662.2 657.7,647.5 658.7,634.5 659.7,648.2 660.7,635.1 661.7,642.0 662.7,673.2 663.7,693.2 664.7,624.3 665.6,694.3 666.6,630.8 667.6,719.7 668.6,604.5 669.6,696.5 670.6,720.0 671.6,601.0 672.6,720.0 673.6,653.3 674.6,720.0 675.6,646.9 676.5,662.3 677.5,647.6 678.5,647.9 679.5,671.9 680.5,635.1 681.5,720.0 682.5,641.9 683.5,648.9 684.5,692.3 685.5,642.1 686.4,720.0 687.4,635.8 688.4,656.8 689.4,635.9 690.4,682.9 691.4,720.0 692.4,604.7 693.4,693.4 694.4,720.0 695.4,630.2 696.4,717.7 697.3,618.8 698.3,718.0 699.3,665.8 700.3,657.9 701.3,705.9 702.3,630.7 703.3,706.1 704.3,630.8 705.3,658.3 706.3,658.4 707.2,720.0 708.2,695.4 709.2,644.1 710.2,658.8 711.2,631.3 712.2,720.0 713.2,625.5 714.2,644.5 715.2,696.3 716.2,659.4 717.1,720.0 718.1,638.1 719.1,659.6 720.1,696.9 721.1,645.3 722.1,698.3 723.1,653.8 724.1,712.5 725.1,628.4 726.1,720.0 727.1,618.1 728.0,657.0 729.0,720.0 730.0,666.6 731.0,707.6 732.0,668.1 733.0,668.8 734.0,710.8 735.0,661.9 736.0,654.7 737.0,713.9 737.9,691.7 738.9,649.2 739.9,683.1 740.9,720.0 741.9,666.7 742.9,720.0 743.9,626.1 744.9,720.0 745.9,678.3 746.9,633.4 747.9,720.0 748.8,690.5 749.8,672.1 750.8,672.7 751.8,682.6 752.8,720.0 753.8,674.8 754.8,695.2 755.8,644.4 756.8,720.0 757.8,720.0 758.7,678.1 759.7,653.6 760.7,720.0 761.7,689.9 762.7,680.6 763.7,691.2 764.7,691.9 765.7,720.0 766.7,665.3 767.7,720.0 768.6,675.1 769.6,666.9 770.6,720.0 771.6,645.1 772.6,720.0 773.6,687.7 774.6,720.0 775.6,670.2 776.6,720.0 777.6,690.2 778.6,720.0 779.5,663.6 780.5,720.0 781.5,720.0 782.5,673.6 783.5,717.4 784.5,720.0 785.5,666.4 786.5,720.0 787.5,696.0 788.5,720.0 789.4,720.0 790.4,709.5 791.4,720.0 792.4,710.7 793.4,720.0 794.4,700.0 795.4,720.0 796.4,720.0 797.4,720.0 798.4,653.7 799.3,720.0 800.3,682.1 801.3,716.1 802.3,720.0 803.3,716.6 804.3,704.3 805.3,720.0 806.3,683.2 807.3,720.0 808.3,665.5 809.3,720.0 810.2,720.0 811.2,720.0 812.2,666.1 813.2,706.0 814.2,720.0 815.2,720.0 816.2,684.8 817.2,720.0 818.2,658.7 819.2,720.0 820.1,720.0 821.1,696.1 822.1,696.2 823.1,720.0 824.1,720.0 825.1,720.0 826.1,686.4 827.1,720.0 828.1,720.0 829.1,720.0 830.1,720.0 831.0,720.0 832.0,709.7 833.0,720.0 834.0,698.3 835.0,720.0 836.0,720.0 837.0,720.0 838.0,720.0 839.0,711.1 840.0,711.2 840.9,720.0 841.9,720.0 842.9,720.0 843.9,720.0 844.9,720.0 845.9,720.0 846.9,720.0 847.9,720.0 848.9,720.0 849.9,690.2 850.8,720.0 851.8,701.4 852.8,720.0 853.8,720.0 854.8,720.0 855.8,720.0 856.8,720.0 857.8,720.0 858.8,691.5 859.8,720.0 860.8,720.0 861.7,703.1 862.7,715.6 863.7,720.0 864.7,720.0 865.7,720.0 866.7,720.0 867.7,673.4 868.7,720.0 869.7,667.6 870.7,720.0 871.6,720.0 872.6,720.0 873.6,720.0 874.6,720.0 875.6,720.0 876.6,694.3 877.6,720.0 878.6,706.0 879.6,720.0 880.6,719.1 881.6,706.5 882.5,720.0 883.5,720.0 884.5,720.0 885.5,720.0 886.5,720.0 887.5,720.0 888.5,707.6 889.5,720.0 890.5,720.0 891.5,720.0 892.4,720.0 893.4,696.8 894.4,720.0 895.4,720.0 896.4,720.0 897.4,720.0 898.4,720.0 899.4,697.7 900.4,720.0 901.4,720.0 902.3,720.0 903.3,677.9 904.3,720.0 905.3,720.0 906.3,710.6 907.3,720.0 908.3,720.0 909.3,720.0 910.3,711.3 911.3,688.7 912.3,720.0 913.2,720.0 914.2,720.0 915.2,720.0 916.2,689.4 917.2,712.4 918.2,720.0 919.2,720.0 920.2,720.0 921.2,720.0 922.2,690.1 923.1,720.0 924.1,720.0 925.1,720.0 926.1,720.0 927.1,720.0 928.1,720.0 929.1,720.0 930.1,720.0 931.1,691.4 932.1,720.0 933.1,720.0 934.0,720.0 935.0,720.0 936.0,715.5 937.0,720.0 938.0,720.0 939.0,720.0 940.0,720.0 941.0,720.0 942.0,720.0 943.0,720.0 943.9,720.0 944.9,693.2 945.9,720.0 946.9,720.0 947.9,720.0 948.9,720.0 949.9,720.0 950.9,720.0 951.9,718.0 952.9,720.0 953.8,720.0 954.8,720.0 955.8,720.0 956.8,720.0 957.8,720.0 958.8,720.0" fill="none" stroke="#0000c8" stroke-width="4.5" stroke-linejoin="bevel" />
</g>
<g stroke="#000" stroke-width="2.8"><line x1="154.0" y1="683.50" x2="166.5" y2="683.50" /><line x1="154.0" y1="428.50" x2="166.5" y2="428.50" /><line x1="154.0" y1="173.50" x2="166.5" y2="173.50" /><line x1="160.0" y1="606.74" x2="166.5" y2="606.74" /><line x1="160.0" y1="561.83" x2="166.5" y2="561.83" /><line x1="160.0" y1="529.97" x2="166.5" y2="529.97" /><line x1="160.0" y1="505.26" x2="166.5" y2="505.26" /><line x1="160.0" y1="485.07" x2="166.5" y2="485.07" /><line x1="160.0" y1="468.00" x2="166.5" y2="468.00" /><line x1="160.0" y1="453.21" x2="166.5" y2="453.21" /><line x1="160.0" y1="440.17" x2="166.5" y2="440.17" /><line x1="160.0" y1="351.74" x2="166.5" y2="351.74" /><line x1="160.0" y1="306.83" x2="166.5" y2="306.83" /><line x1="160.0" y1="274.97" x2="166.5" y2="274.97" /><line x1="160.0" y1="250.26" x2="166.5" y2="250.26" /><line x1="160.0" y1="230.07" x2="166.5" y2="230.07" /><line x1="160.0" y1="213.00" x2="166.5" y2="213.00" /><line x1="160.0" y1="198.21" x2="166.5" y2="198.21" /><line x1="160.0" y1="185.17" x2="166.5" y2="185.17" /><line x1="160.0" y1="96.74" x2="166.5" y2="96.74" /><line x1="160.0" y1="51.83" x2="166.5" y2="51.83" /><line x1="166.50" y1="683" x2="166.50" y2="695" /><line x1="364.57" y1="683" x2="364.57" y2="695" /><line x1="562.65" y1="683" x2="562.65" y2="695" /><line x1="760.73" y1="683" x2="760.73" y2="695" /><line x1="958.80" y1="683" x2="958.80" y2="695" /><line x1="265.54" y1="683" x2="265.54" y2="688.3" /><line x1="463.61" y1="683" x2="463.61" y2="688.3" /><line x1="661.69" y1="683" x2="661.69" y2="688.3" /><line x1="859.76" y1="683" x2="859.76" y2="688.3" /></g>
<path d="M166.5,42.5 V683.3 H960.3" fill="none" stroke="#000" stroke-width="3.2" stroke-linejoin="miter"/>
<g font-size="33" fill="#000"><text x="146" y="184.0" text-anchor="end">1000</text><text x="146" y="439.0" text-anchor="end">100</text><text x="146" y="694.0" text-anchor="end">10</text><text x="166.5" y="729.5" text-anchor="middle">300</text><text x="364.6" y="729.5" text-anchor="middle">400</text><text x="562.6" y="729.5" text-anchor="middle">500</text><text x="760.7" y="729.5" text-anchor="middle">600</text><text x="958.8" y="729.5" text-anchor="middle">700</text></g>
<rect x="73.81" y="180.60" width="6.30" height="4" fill="#fff"/><rect x="84.11" y="180.60" width="6.50" height="4" fill="#fff"/><rect x="92.16" y="435.60" width="6.30" height="4" fill="#fff"/><rect x="102.46" y="435.60" width="6.50" height="4" fill="#fff"/><rect x="110.50" y="690.60" width="6.30" height="4" fill="#fff"/><rect x="120.80" y="690.60" width="6.50" height="4" fill="#fff"/>
<text x="480" y="804.5" font-size="40" fill="#000">Time (µs)</text>
<text transform="translate(32,497.5) rotate(-90)" font-size="39.3" fill="#000">Intensity (counts)</text>
<g><rect x="710.0" y="13.8" width="6.5" height="4.8" fill="#ff0000"/><rect x="735.9" y="13.8" width="6.5" height="4.8" fill="#ff0000"/><rect x="761.8" y="13.8" width="6.5" height="4.8" fill="#ff0000"/><text transform="translate(786,26.2) scale(1,1.08)" font-size="30">UC-bare-unaged</text><line x1="710" y1="53.3" x2="781" y2="53.3" stroke="#ff0000" stroke-width="4.8"/><text transform="translate(786,63.3) scale(1,1.08)" font-size="30">UC-bare-48h-DMEM</text><rect x="710.0" y="88.0" width="6.5" height="4.8" fill="#0000c8"/><rect x="735.9" y="88.0" width="6.5" height="4.8" fill="#0000c8"/><rect x="761.8" y="88.0" width="6.5" height="4.8" fill="#0000c8"/><text transform="translate(786,100.4) scale(1,1.08)" font-size="30">UC-citrate-unaged</text><line x1="710" y1="127.5" x2="781" y2="127.5" stroke="#0000c8" stroke-width="4.8"/><text transform="translate(786,137.5) scale(1,1.08)" font-size="30">UC-citrate-48h-water</text></g>
<text transform="translate(635,251.8) scale(1,1.06)" font-size="34" fill="#ff0000">DMEM</text>
<text transform="translate(363,558.8) scale(1,1.05)" font-size="34" fill="#0000c8">Water</text>
<g stroke-width="4.1">
<line x1="606.8" y1="375.3" x2="650" y2="290" stroke="#ff0000"/>
<polygon points="661.8,266.6 637.5,295.3 656.6,304.1" fill="#ff0000"/>
<line x1="491.7" y1="403.2" x2="446" y2="500" stroke="#0000c8"/>
<polygon points="433.2,524.7 438.7,490.4 458.6,498.2" fill="#0000c8"/>
</g>
</svg>
</body></html>
